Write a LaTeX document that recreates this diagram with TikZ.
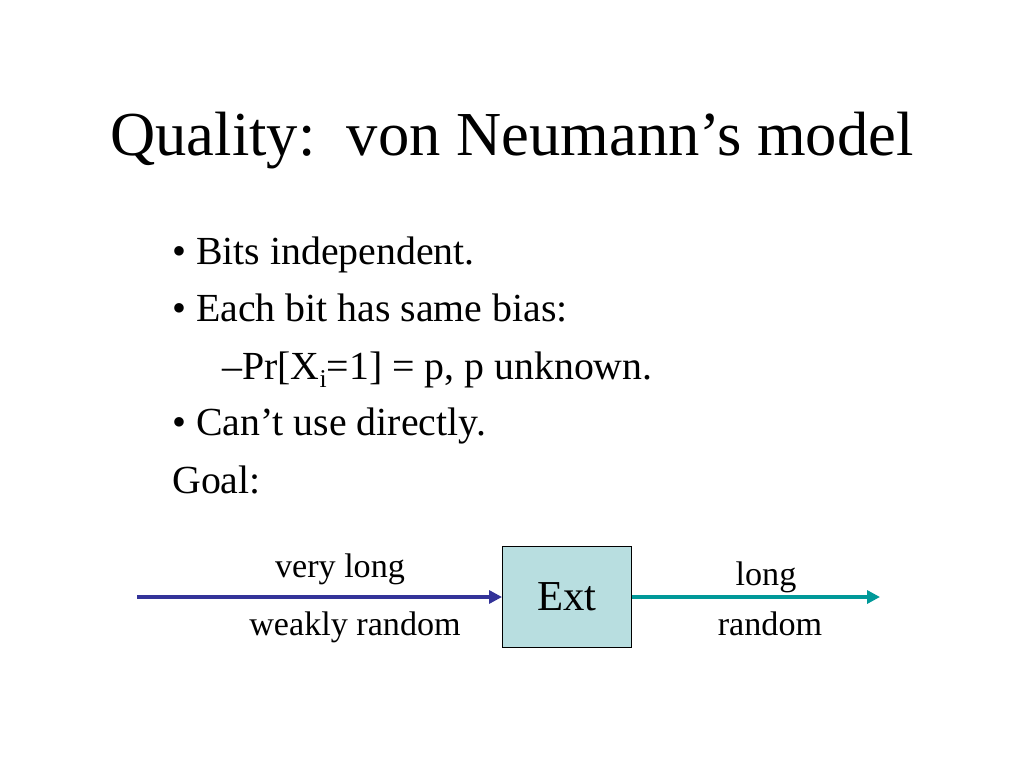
\documentclass[tikz,border=0pt]{standalone}
\usepackage{fontspec}
\setmainfont{Liberation Serif}
\usetikzlibrary{arrows.meta,positioning}

\definecolor{inblue}{HTML}{333399}
\definecolor{outteal}{HTML}{009999}
\definecolor{extfill}{HTML}{B8DEE0}

\newcommand{\lowsub}[1]{\raisebox{-6pt}{\fontsize{18}{20}\selectfont #1}}

\tikzset{%
  % Specifications for style of nodes:
         title/.style = {anchor=base, inner sep=0pt, font=\fontsize{44}{50}\selectfont},
          item/.style = {anchor=base west, inner sep=0pt, font=\fontsize{28}{32}\selectfont},
        extbox/.style = {rectangle, draw=black, line width=0.7pt, fill=extfill, minimum width=90.7pt, minimum height=71.7pt, inner sep=0pt, font=\fontsize{30}{34}\selectfont},
         label/.style = {anchor=base, inner sep=0pt, font=\fontsize{24}{28}\selectfont},
  % Specifications for style of arrows:
         flow/.style = {line width=2.8pt, -{Triangle[length=9pt,width=9pt]}},
}

\begin{document}
\begin{tikzpicture}[x=0.703125pt, y=-0.703125pt]
    \useasboundingbox (0,0) rectangle (1024,768);

    % Draw title
    \node (head)        [title] at (512,156)     {Quality:\ \ von Neumann’s model};

    % Draw list
    \node (indep)       [item]  at (172,265)     {\textbullet\ Bits independent.};
    \node (bias)        [item]  at (172,322)     {\textbullet\ Each bit has same bias:};
    \node (prob)        [item]  at (222,379)     {–Pr[X\lowsub{i}=1] = p, p unknown.};
    \node (direct)      [item]  at (172,435)     {\textbullet\ Can’t use directly.};
    \node (goal)        [item]  at (172,493)     {Goal:};

    % Draw nodes
    \node (ext)         [extbox] at (567,597)    {Ext};
    \coordinate (source) at (137,597);
    \coordinate (sink)   at (880,597);

    \node (verylong)    [label] at (340,577)     {very long};
    \node (weak)        [label] at (355,635)     {weakly random};
    \node (long)        [label] at (766,585)     {long};
    \node (random)      [label] at (770,635)     {random};

    % Draw arrows
    \draw[flow, inblue]        (source) -- (ext.west);
    \draw[flow, outteal]       (ext.east) -- (sink);

\end{tikzpicture}
\end{document}
